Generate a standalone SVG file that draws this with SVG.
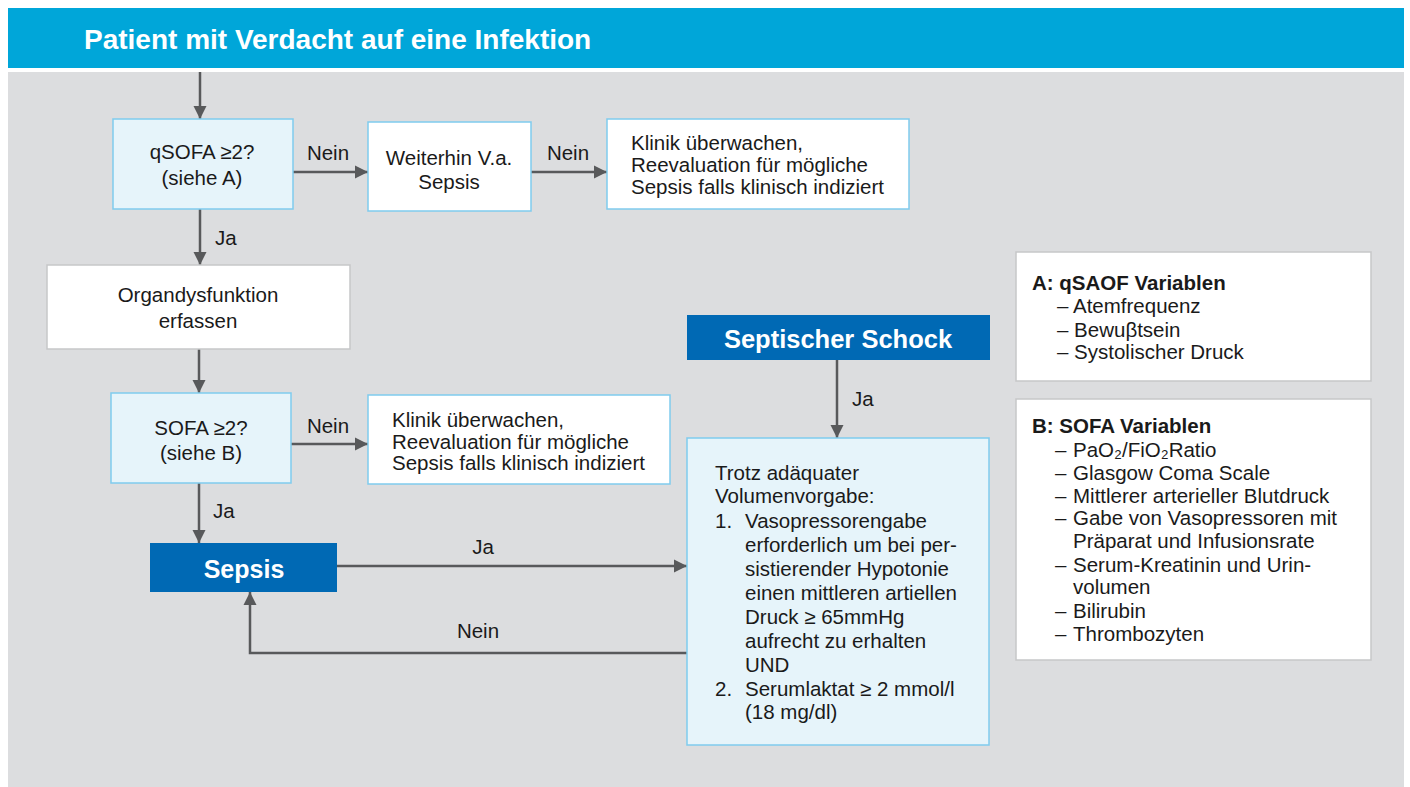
<svg xmlns="http://www.w3.org/2000/svg" width="1410" height="787" viewBox="0 0 1410 787">
<defs>
<marker id="ah" viewBox="0 0 10 10" refX="10" refY="5" markerWidth="13" markerHeight="14" markerUnits="userSpaceOnUse" orient="auto">
<path d="M0,0 L10,5 L0,10 z" fill="#58595B"/>
</marker>
<style>
.t{font-family:"Liberation Sans",Arial,sans-serif;font-size:20.5px;fill:#1a1a1a}
.c{text-anchor:middle}
.b{font-weight:bold}
.w{fill:#fff;font-weight:bold}
.lb{fill:#E6F4FA;stroke:#7FCBEE;stroke-width:1.5}
.wb{fill:#fff;stroke:#7FCBEE;stroke-width:1.5}
.gb{fill:#fff;stroke:#C6C7C9;stroke-width:1.5}
.con{fill:none;stroke:#58595B;stroke-width:2.5;marker-end:url(#ah)}
</style>
</defs>
<rect x="0" y="0" width="1410" height="787" fill="#fff"/>
<rect x="8" y="72" width="1396" height="715" fill="#DCDDDF"/>
<g id="header">
<rect x="8" y="8" width="1396" height="60" fill="#00A6D9"/>
<text class="t w" x="84" y="49" style="font-size:28px">Patient mit Verdacht auf eine Infektion</text>
</g>
<g id="connectors">
<path class="con" d="M200,72 L200,119"/>
<path class="con" d="M293,172 L368,172"/>
<path class="con" d="M531,172 L607,172"/>
<path class="con" d="M200,209 L200,265"/>
<path class="con" d="M199,349 L199,393"/>
<path class="con" d="M291,444 L368,444"/>
<path class="con" d="M199,483 L199,543"/>
<path class="con" d="M337,566 L687,566"/>
<path class="con" d="M687,653 L250,653 L250,592"/>
<path class="con" d="M837,360 L837,438"/>
<text class="t c" x="328" y="160">Nein</text>
<text class="t c" x="568" y="160">Nein</text>
<text class="t" x="215" y="245">Ja</text>
<text class="t c" x="328" y="433">Nein</text>
<text class="t" x="213" y="518">Ja</text>
<text class="t c" x="483" y="554">Ja</text>
<text class="t c" x="478" y="638">Nein</text>
<text class="t" x="852" y="406">Ja</text>
</g>
<g id="qsofa">
<rect class="lb" x="113" y="119" width="180" height="90"/>
<text class="t c" x="202" y="159">qSOFA ≥2?</text>
<text class="t c" x="202" y="185">(siehe A)</text>
</g>
<g id="weiterhin">
<rect class="wb" x="368" y="122" width="163" height="89"/>
<text class="t c" x="449" y="165">Weiterhin V.a.</text>
<text class="t c" x="449" y="189">Sepsis</text>
</g>
<g id="klinik1">
<rect class="wb" x="607" y="119" width="302" height="90"/>
<text class="t" x="631" y="150">Klinik überwachen,</text>
<text class="t" x="631" y="172">Reevaluation für mögliche</text>
<text class="t" x="631" y="194">Sepsis falls klinisch indiziert</text>
</g>
<g id="organ">
<rect class="gb" x="47" y="265" width="303" height="84"/>
<text class="t c" x="198" y="302">Organdysfunktion</text>
<text class="t c" x="198" y="328">erfassen</text>
</g>
<g id="sofa">
<rect class="lb" x="111" y="393" width="180" height="90"/>
<text class="t c" x="201" y="435">SOFA ≥2?</text>
<text class="t c" x="201" y="460">(siehe B)</text>
</g>
<g id="klinik2">
<rect class="wb" x="368" y="395" width="302" height="89"/>
<text class="t" x="392" y="427">Klinik überwachen,</text>
<text class="t" x="392" y="449">Reevaluation für mögliche</text>
<text class="t" x="392" y="470">Sepsis falls klinisch indiziert</text>
</g>
<g id="sepsis">
<rect x="150" y="543" width="187" height="49" fill="#0069B4"/>
<text class="t c w" x="244" y="578" style="font-size:25px">Sepsis</text>
</g>
<g id="schock">
<rect x="687" y="315" width="303" height="45" fill="#0069B4"/>
<text class="t c w" x="838" y="348" style="font-size:25.5px">Septischer Schock</text>
</g>
<g id="kriterien">
<rect class="lb" x="687" y="438" width="302" height="307"/>
<text class="t" x="715" y="480">Trotz adäquater</text>
<text class="t" x="715" y="503">Volumenvorgabe:</text>
<text class="t" x="715" y="528">1.</text>
<text class="t" x="745" y="528">Vasopressorengabe</text>
<text class="t" x="745" y="552">erforderlich um bei per-</text>
<text class="t" x="745" y="576">sistierender Hypotonie</text>
<text class="t" x="745" y="600">einen mittleren artiellen</text>
<text class="t" x="745" y="624">Druck ≥ 65mmHg</text>
<text class="t" x="745" y="648">aufrecht zu erhalten</text>
<text class="t" x="745" y="672">UND</text>
<text class="t" x="715" y="696">2.</text>
<text class="t" x="745" y="696">Serumlaktat ≥ 2 mmol/l</text>
<text class="t" x="745" y="719">(18 mg/dl)</text>
</g>
<g id="legendA">
<rect class="gb" x="1016" y="252" width="355" height="129"/>
<text class="t b" x="1032" y="290">A: qSAOF Variablen</text>
<text class="t" x="1057" y="313">– Atemfrequenz</text>
<text class="t" x="1057" y="337">– Bewuβtsein</text>
<text class="t" x="1057" y="359">– Systolischer Druck</text>
</g>
<g id="legendB">
<rect class="gb" x="1016" y="399" width="355" height="261"/>
<text class="t b" x="1032" y="433">B: SOFA Variablen</text>
<text class="t" x="1055" y="457">–</text><text class="t" x="1073" y="457">PaO₂/FiO₂Ratio</text>
<text class="t" x="1055" y="480">–</text><text class="t" x="1073" y="480">Glasgow Coma Scale</text>
<text class="t" x="1055" y="503">–</text><text class="t" x="1073" y="503">Mittlerer arterieller Blutdruck</text>
<text class="t" x="1055" y="525">–</text><text class="t" x="1073" y="525">Gabe von Vasopressoren mit</text>
<text class="t" x="1073" y="548">Präparat und Infusionsrate</text>
<text class="t" x="1055" y="572">–</text><text class="t" x="1073" y="572">Serum-Kreatinin und Urin-</text>
<text class="t" x="1073" y="594">volumen</text>
<text class="t" x="1055" y="618">–</text><text class="t" x="1073" y="618">Bilirubin</text>
<text class="t" x="1055" y="641">–</text><text class="t" x="1073" y="641">Thrombozyten</text>
</g>
</svg>
